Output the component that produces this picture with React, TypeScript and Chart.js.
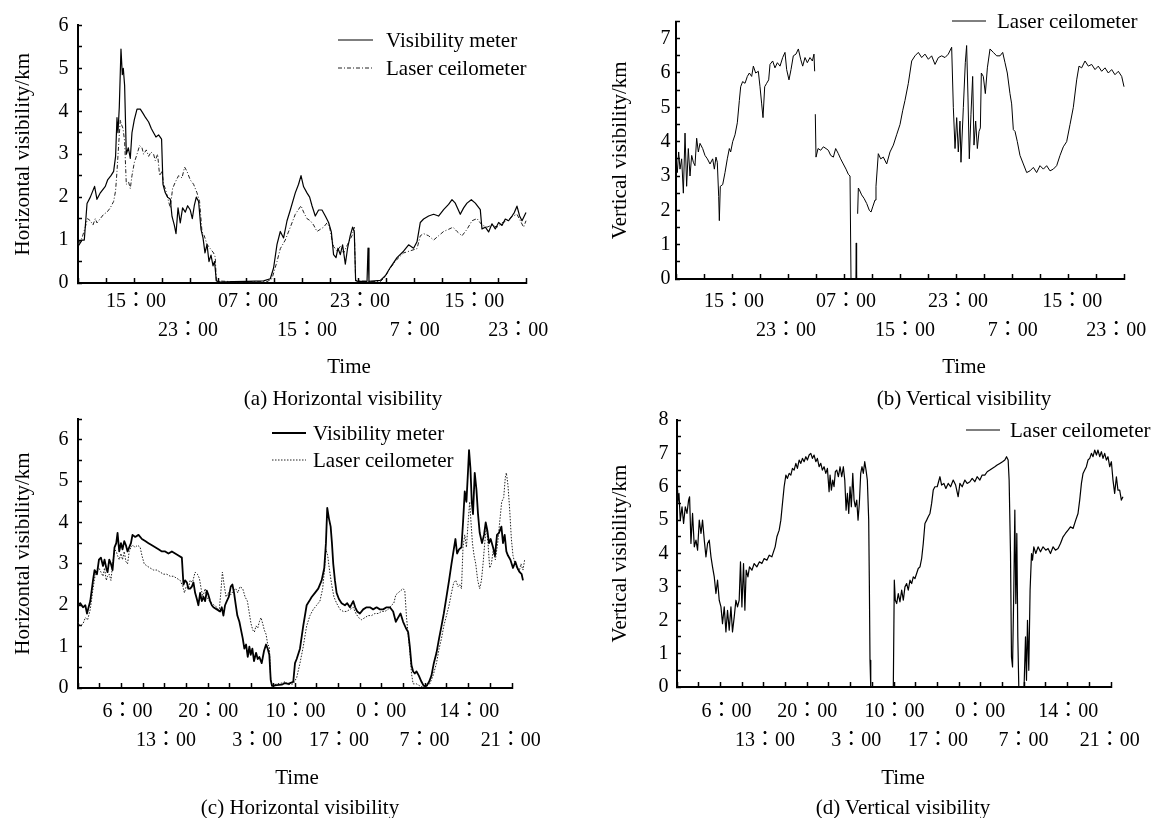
import React, { useEffect, useRef } from 'react';
import { Chart, registerables } from 'chart.js';

Chart.register(...registerables);

const FONT = "'Liberation Serif', 'Noto Sans CJK JP', 'Times New Roman', serif";

// ---------------- data: [time in hours from axis start, visibility km] ----------------
const aMeter = [[0,0.85],[0.57,1.0],[0.9,1.0],[1.29,1.85],[1.76,2.0],[2.37,2.25],[2.71,1.95],[3.19,2.1],[3.9,2.25],[4.23,2.4],[4.71,2.5],[5.09,2.6],[5.37,2.95],[5.57,3.85],[5.71,3.5],[5.9,4.1],[6.14,5.45],[6.33,4.85],[6.47,5.0],[6.66,4.6],[6.9,3.0],[7.19,3.15],[7.47,2.9],[7.71,3.5],[8.04,3.8],[8.43,4.05],[8.9,4.05],[9.29,3.95],[9.66,3.85],[10.09,3.75],[10.47,3.6],[10.8,3.5],[11.14,3.4],[11.51,3.45],[11.94,3.35],[12.14,2.3],[12.47,2.1],[12.8,2.0],[13.19,1.95],[13.43,1.55],[13.76,1.35],[14.0,1.15],[14.29,1.75],[14.61,1.4],[14.94,1.75],[15.33,1.65],[15.66,1.8],[16.04,1.7],[16.33,1.5],[16.61,1.8],[16.9,2.0],[17.23,1.9],[17.57,1.25],[17.86,1.05],[18.14,0.7],[18.43,0.9],[18.71,0.5],[19.0,0.65],[19.29,0.4],[19.51,0.5],[19.76,0.05],[20.33,0.02],[22.23,0.03],[24.14,0.04],[26.51,0.05],[27.47,0.1],[27.94,0.35],[28.43,0.9],[28.9,1.2],[29.37,1.05],[29.86,1.45],[30.33,1.7],[31.04,2.1],[31.51,2.3],[31.86,2.5],[32.23,2.24],[32.71,2.1],[33.09,2.0],[33.43,1.8],[33.9,1.56],[34.37,1.7],[34.86,1.7],[35.33,1.56],[35.8,1.41],[36.19,1.19],[36.51,0.66],[36.86,0.59],[37.14,0.81],[37.47,0.66],[37.8,0.89],[38.19,0.44],[38.51,0.81],[38.9,1.11],[39.23,1.3],[39.47,1.19],[39.66,0.06],[39.94,0.04],[41.29,0.04],[41.43,0.81],[41.57,0.04],[43.19,0.06],[43.9,0.17],[44.61,0.36],[45.57,0.59],[46.51,0.74],[47.23,0.89],[47.94,0.81],[48.43,0.96],[48.9,1.41],[49.37,1.49],[50.09,1.56],[50.8,1.6],[51.51,1.56],[52.23,1.71],[52.94,1.83],[53.43,1.94],[53.9,1.86],[54.61,1.6],[55.09,1.75],[55.57,1.86],[56.19,1.94],[56.76,1.86],[57.47,1.71],[57.71,1.26],[58.19,1.3],[58.66,1.19],[59.14,1.38],[59.61,1.26],[60.09,1.41],[60.57,1.34],[61.04,1.49],[61.51,1.45],[62.0,1.56],[62.33,1.64],[62.71,1.79],[63.09,1.56],[63.43,1.45],[63.76,1.56],[64.0,1.64]];

const aLaser = [[0,0.9],[0.57,1.05],[1.04,1.3],[1.37,1.5],[1.76,1.45],[2.14,1.35],[2.47,1.5],[2.71,1.4],[3.19,1.5],[3.66,1.6],[4.14,1.65],[4.61,1.75],[5.09,1.9],[5.37,2.15],[5.57,2.6],[5.8,3.2],[6.04,3.8],[6.19,3.7],[6.43,3.6],[6.66,3.3],[6.9,2.3],[7.23,2.35],[7.47,2.2],[7.71,2.5],[8.04,2.8],[8.43,3.0],[8.8,3.2],[9.14,3.15],[9.37,3.0],[9.76,3.1],[10.09,2.95],[10.43,3.05],[10.8,3.0],[11.04,2.85],[11.37,3.0],[11.66,2.5],[12.0,2.6],[12.23,2.3],[12.47,2.2],[12.94,1.9],[13.19,1.75],[13.51,2.2],[13.9,2.35],[14.37,2.5],[14.86,2.45],[15.23,2.7],[15.57,2.6],[16.04,2.4],[16.51,2.3],[17.0,2.1],[17.37,1.9],[17.71,1.2],[18.04,1.1],[18.43,0.9],[18.9,0.8],[19.37,0.7],[19.61,0.6],[19.76,0.05],[22.23,0.03],[27.0,0.03],[27.71,0.1],[28.43,0.5],[28.9,0.8],[29.61,1.0],[30.33,1.3],[31.04,1.6],[31.86,1.8],[32.23,1.65],[32.71,1.5],[33.19,1.45],[33.66,1.35],[34.14,1.2],[34.61,1.25],[35.09,1.3],[35.57,1.4],[35.94,1.3],[36.29,1.0],[36.51,0.85],[37.0,0.75],[37.47,0.85],[37.94,0.7],[38.51,0.9],[39.14,1.1],[39.47,1.3],[39.66,0.05],[43.19,0.03],[43.9,0.15],[44.61,0.35],[45.57,0.55],[46.51,0.7],[47.47,0.75],[48.43,0.8],[48.9,1.1],[49.37,1.15],[50.09,1.1],[50.8,1.0],[51.51,1.1],[52.23,1.2],[52.94,1.25],[53.57,1.3],[54.14,1.2],[54.86,1.1],[55.57,1.25],[56.29,1.45],[57.0,1.5],[57.71,1.35],[58.43,1.3],[59.14,1.35],[59.86,1.3],[60.57,1.4],[61.29,1.45],[62.0,1.55],[62.71,1.6],[63.19,1.45],[63.66,1.3],[64.0,1.45]];

const bLaser = [[0,3.5],[0.19,3.1],[0.38,3.7],[0.57,3.2],[0.81,3.5],[1.05,2.5],[1.29,4.25],[1.52,2.7],[1.76,3.8],[2.0,3.0],[2.24,3.6],[2.48,3.4],[2.71,3.3],[2.95,4.1],[3.19,3.7],[3.43,3.95],[3.81,3.8],[4.14,3.6],[4.48,3.5],[4.86,3.35],[5.24,3.5],[5.48,3.2],[5.71,3.55],[5.9,3.4],[6.1,2.4],[6.19,1.7],[6.33,2.7],[6.67,2.75],[7.0,3.1],[7.33,3.5],[7.62,3.8],[7.81,3.7],[8.1,4.0],[8.43,4.2],[8.76,4.55],[9.05,5.2],[9.24,5.6],[9.52,5.75],[9.86,5.7],[10.19,5.9],[10.48,6.0],[10.81,5.9],[11.05,6.2],[11.38,6.0],[11.76,6.05],[12.0,5.6],[12.24,5.1],[12.43,4.7],[12.67,5.6],[12.95,5.7],[13.24,5.8],[13.43,6.25],[13.81,6.35],[14.14,6.15],[14.48,6.3],[14.86,6.2],[15.24,6.45],[15.57,6.6],[15.81,6.1],[16.14,5.8],[16.43,6.1],[16.76,6.5],[17.14,6.55],[17.48,6.7],[17.81,6.4],[18.1,6.2],[18.43,6.45],[18.76,6.3],[19.14,6.45],[19.48,6.35],[19.71,6.55],[19.81,6.05],[19.86,null],[19.9,4.8],[20.0,3.55],[20.29,3.8],[20.67,3.75],[21.05,3.85],[21.43,3.8],[21.76,3.75],[22.1,3.6],[22.48,3.55],[22.81,3.8],[23.19,3.65],[23.52,3.5],[23.9,3.35],[24.29,3.2],[24.62,3.05],[24.86,3.0],[25.0,0],[25.14,0],[25.4,null],[25.7,0],[25.75,1.05],[25.8,0],[25.88,null],[25.95,1.9],[26.05,2.65],[26.19,2.6],[26.52,2.45],[26.86,2.35],[27.24,2.2],[27.62,2.0],[27.86,1.95],[28.1,2.1],[28.43,2.3],[28.57,2.7],[28.9,3.65],[29.24,3.5],[29.62,3.55],[30.1,3.35],[30.57,3.7],[31.05,3.9],[31.52,4.2],[32.0,4.5],[32.38,4.9],[32.71,5.2],[33.19,5.7],[33.67,6.35],[34.14,6.5],[34.62,6.6],[35.1,6.45],[35.57,6.55],[36.05,6.4],[36.52,6.5],[37.0,6.25],[37.48,6.45],[37.95,6.5],[38.43,6.45],[38.9,6.55],[39.38,6.75],[39.62,5.0],[39.86,3.8],[40.1,4.7],[40.33,3.7],[40.57,4.6],[40.71,3.4],[41.05,5.0],[41.33,6.3],[41.52,6.8],[41.71,5.3],[41.9,3.5],[42.14,4.8],[42.38,5.9],[42.57,3.9],[42.81,4.6],[43.05,3.8],[43.29,4.3],[43.48,4.4],[43.62,6.0],[43.9,5.9],[44.19,5.4],[44.48,6.15],[44.86,6.7],[45.33,6.6],[45.81,6.5],[46.29,6.5],[46.67,6.6],[47.0,6.3],[47.33,6.0],[47.71,5.4],[47.95,5.1],[48.19,4.35],[48.43,4.3],[48.76,4.0],[49.14,3.6],[49.62,3.35],[50.1,3.1],[50.57,3.15],[51.05,3.25],[51.52,3.1],[52.0,3.3],[52.48,3.2],[52.95,3.3],[53.43,3.15],[53.9,3.2],[54.38,3.3],[54.86,3.6],[55.33,3.85],[55.81,4.0],[56.29,4.5],[56.76,5.0],[57.24,5.8],[57.57,6.2],[57.95,6.15],[58.43,6.35],[58.9,6.2],[59.38,6.25],[59.86,6.1],[60.33,6.2],[60.81,6.05],[61.29,6.15],[61.76,6.0],[62.24,6.1],[62.71,5.95],[63.19,6.05],[63.67,5.9],[64.0,5.6]];

const cMeter = [[0,2.0],[0.37,2.05],[0.81,1.95],[1.18,2.0],[1.45,1.8],[1.71,1.95],[1.98,2.1],[2.42,2.6],[2.67,2.85],[3.06,2.75],[3.38,3.1],[3.7,3.15],[4.03,2.95],[4.28,3.1],[4.56,2.9],[4.77,2.8],[5.04,3.1],[5.31,3.0],[5.57,2.85],[5.89,3.4],[6.17,3.5],[6.38,3.75],[6.65,3.3],[6.93,3.5],[7.18,3.35],[7.46,3.55],[7.73,3.45],[7.99,3.3],[8.26,3.4],[8.54,3.5],[8.79,3.7],[9.23,3.65],[9.76,3.7],[10.31,3.6],[10.84,3.55],[11.37,3.5],[11.92,3.45],[12.45,3.4],[12.98,3.35],[13.53,3.3],[14.06,3.3],[14.59,3.25],[15.14,3.3],[15.67,3.25],[16.2,3.2],[16.75,3.15],[17.01,2.5],[17.28,2.6],[17.56,2.55],[17.81,2.4],[18.09,2.4],[18.36,2.45],[18.62,2.55],[18.89,2.3],[19.17,2.15],[19.42,2.0],[19.7,2.3],[19.97,2.1],[20.23,2.2],[20.5,2.1],[20.78,2.35],[21.03,2.25],[21.31,2.1],[21.58,2.0],[21.84,1.95],[22.39,1.9],[22.92,1.85],[23.19,1.95],[23.45,1.75],[23.72,2.0],[24.0,2.1],[24.32,2.2],[24.64,2.45],[24.9,2.5],[25.17,2.3],[25.45,2.0],[25.7,1.75],[26.03,1.6],[26.3,1.4],[26.57,1.2],[26.83,0.95],[27.11,1.05],[27.38,0.75],[27.64,1.0],[27.86,0.8],[28.12,0.95],[28.39,0.65],[28.72,0.85],[28.99,0.7],[29.25,0.75],[29.63,0.6],[30.01,0.9],[30.33,1.05],[30.6,0.95],[30.86,0.8],[31.08,0.2],[31.29,0.05],[32.05,0.07],[32.86,0.08],[33.39,0.12],[33.92,0.1],[34.72,0.15],[35.0,0.6],[35.27,0.7],[35.8,0.95],[36.33,1.5],[36.88,2.0],[37.3,2.1],[37.69,2.2],[38.22,2.3],[38.75,2.4],[39.3,2.6],[39.72,2.9],[39.99,3.5],[40.2,4.35],[40.47,4.1],[40.75,3.9],[40.96,3.5],[41.17,3.0],[41.44,2.6],[41.71,2.3],[42.08,2.15],[42.52,2.05],[43.05,2.0],[43.42,2.05],[43.86,1.95],[44.39,2.1],[44.71,1.95],[45.03,1.85],[45.47,1.8],[46.0,1.9],[46.55,1.95],[47.08,1.95],[47.61,1.9],[48.16,1.95],[48.69,1.9],[49.22,1.9],[49.77,1.95],[50.3,1.95],[50.83,1.85],[51.26,1.6],[51.63,1.7],[52.02,1.8],[52.44,1.6],[52.88,1.45],[53.25,1.35],[53.52,1.0],[53.79,0.55],[54.05,0.4],[54.32,0.35],[54.6,0.4],[54.97,0.3],[55.4,0.15],[55.77,0.05],[56.21,0.05],[56.63,0.15],[57.01,0.3],[57.39,0.6],[57.82,0.85],[58.24,1.2],[58.63,1.5],[59.0,1.8],[59.43,2.2],[59.85,2.6],[60.24,3.0],[60.61,3.35],[60.88,3.6],[61.14,3.25],[61.46,3.35],[61.85,3.4],[62.1,4.0],[62.38,4.75],[62.65,4.5],[62.91,5.25],[63.07,5.75],[63.3,5.3],[63.51,4.5],[63.71,4.2],[63.99,5.2],[64.26,4.8],[64.52,4.2],[64.79,3.75],[65.16,3.5],[65.49,3.7],[65.76,4.0],[66.03,3.8],[66.29,3.5],[66.56,3.6],[66.94,3.4],[67.26,3.2],[67.58,3.7],[67.9,3.75],[68.29,3.9],[68.55,3.5],[68.82,3.7],[69.09,3.3],[69.35,3.2],[69.74,3.1],[70.16,2.9],[70.54,3.05],[70.87,2.9],[71.24,2.8],[71.56,2.75],[71.77,2.6]];

const cLaser = [[0,1.6],[0.37,1.5],[0.81,1.55],[1.18,1.7],[1.55,1.65],[1.98,1.9],[2.42,2.4],[2.79,2.75],[3.06,2.85],[3.38,2.9],[3.7,2.8],[4.03,2.7],[4.28,2.9],[4.56,2.6],[4.77,2.7],[5.04,2.75],[5.31,2.6],[5.57,2.95],[5.89,3.35],[6.17,3.3],[6.38,3.2],[6.65,3.1],[6.93,3.25],[7.18,3.1],[7.46,3.3],[7.73,3.05],[7.99,3.0],[8.26,3.3],[8.54,3.4],[8.79,3.45],[9.23,3.4],[9.6,3.45],[10.03,3.4],[10.31,3.2],[10.68,3.0],[11.11,2.95],[11.64,2.9],[12.18,2.85],[12.72,2.85],[13.26,2.8],[13.79,2.75],[14.33,2.75],[14.87,2.7],[15.4,2.7],[15.94,2.65],[16.48,2.6],[16.91,2.45],[17.17,2.3],[17.44,2.45],[17.81,2.4],[18.09,2.6],[18.46,2.55],[18.89,2.8],[19.26,2.75],[19.58,2.65],[19.86,2.4],[20.13,2.2],[20.5,2.4],[20.78,2.2],[21.2,2.1],[21.58,2.05],[21.95,2.0],[22.39,1.95],[22.76,1.85],[23.03,2.3],[23.29,2.8],[23.56,2.5],[23.88,2.2],[24.26,2.3],[24.64,2.25],[25.06,2.35],[25.45,2.4],[25.77,2.3],[26.14,2.45],[26.57,2.4],[26.95,2.2],[27.32,2.1],[27.64,1.8],[27.91,1.55],[28.19,1.4],[28.44,1.35],[28.72,1.5],[28.99,1.45],[29.25,1.6],[29.52,1.7],[29.8,1.55],[30.05,1.4],[30.33,1.3],[30.6,1.05],[30.86,1.0],[31.08,0.2],[31.29,0.05],[32.05,0.1],[32.86,0.12],[33.39,0.15],[33.92,0.08],[34.72,0.1],[35.27,0.25],[35.8,0.6],[36.33,1.0],[36.88,1.5],[37.41,1.75],[37.95,1.9],[38.49,2.0],[39.02,2.1],[39.46,2.4],[39.72,2.8],[39.99,3.35],[40.27,3.2],[40.52,2.9],[40.91,2.5],[41.28,2.2],[41.71,2.05],[42.25,1.9],[42.78,1.85],[43.32,1.85],[43.86,1.9],[44.39,1.95],[44.82,1.8],[45.26,1.7],[45.74,1.65],[46.27,1.7],[46.8,1.75],[47.35,1.75],[47.88,1.8],[48.41,1.8],[48.96,1.85],[49.49,1.85],[50.03,1.9],[50.57,2.0],[50.94,2.05],[51.26,2.25],[51.63,2.3],[52.02,2.35],[52.44,2.4],[52.71,2.35],[52.99,1.7],[53.25,1.3],[53.52,0.9],[53.79,0.35],[54.05,0.1],[54.6,0.1],[55.13,0.05],[55.66,0.02],[56.21,0.05],[56.74,0.1],[57.27,0.3],[57.82,0.6],[58.24,0.95],[58.63,1.2],[59.0,1.5],[59.43,1.75],[59.85,2.0],[60.24,2.3],[60.61,2.55],[60.93,2.6],[61.3,2.45],[61.57,2.5],[61.85,2.4],[62.1,3.4],[62.38,3.7],[62.65,3.4],[62.97,4.1],[63.18,4.5],[63.39,4.0],[63.62,3.5],[63.88,3.2],[64.15,3.0],[64.47,2.6],[64.79,2.4],[65.07,2.6],[65.33,3.0],[65.6,3.5],[65.87,3.9],[66.13,3.5],[66.4,2.9],[66.68,3.0],[66.94,3.3],[67.32,3.1],[67.69,3.5],[68.01,4.0],[68.34,4.5],[68.66,4.6],[68.93,5.1],[69.09,5.2],[69.35,4.9],[69.63,4.3],[69.9,3.6],[70.16,3.2],[70.48,3.0],[70.8,2.9],[71.12,2.8],[71.45,3.0],[71.77,2.85],[72.04,3.1]];

const dLaser = [[0,5.9],[0.1,5.5],[0.32,5.8],[0.53,5.0],[0.81,5.4],[1.06,4.9],[1.34,5.4],[1.61,5.2],[1.87,5.6],[2.03,5.7],[2.25,4.3],[2.51,5.2],[2.79,4.2],[3.06,4.4],[3.32,4.1],[3.59,5.0],[3.87,4.6],[4.12,5.0],[4.4,4.4],[4.67,3.9],[4.93,4.3],[5.2,4.4],[5.48,3.9],[5.73,3.6],[6.01,3.3],[6.28,2.8],[6.54,3.2],[6.81,2.6],[7.09,2.4],[7.34,1.9],[7.62,2.4],[7.89,1.65],[8.15,2.3],[8.42,1.7],[8.7,2.4],[8.95,1.65],[9.23,2.1],[9.5,2.6],[9.76,2.4],[10.03,2.6],[10.24,3.75],[10.47,2.4],[10.73,3.7],[10.95,2.3],[11.16,3.5],[11.44,3.3],[11.69,3.6],[12.08,3.5],[12.45,3.7],[12.88,3.6],[13.3,3.75],[13.69,3.7],[14.06,3.85],[14.5,3.8],[14.87,3.95],[15.3,3.9],[15.56,4.05],[15.83,4.2],[16.11,4.5],[16.48,4.7],[16.75,5.0],[17.01,5.5],[17.28,6.0],[17.56,6.35],[17.81,6.25],[18.09,6.4],[18.36,6.35],[18.62,6.55],[18.89,6.5],[19.17,6.7],[19.42,6.55],[19.7,6.8],[19.97,6.7],[20.23,6.85],[20.5,6.75],[20.78,6.9],[21.03,6.8],[21.31,6.95],[21.58,7.0],[21.84,6.85],[22.11,6.95],[22.39,6.75],[22.64,6.85],[22.92,6.6],[23.19,6.7],[23.45,6.5],[23.72,6.6],[24.0,6.4],[24.26,6.55],[24.53,5.85],[24.69,6.35],[24.9,5.9],[25.12,6.2],[25.33,6.0],[25.54,6.45],[25.77,6.5],[26.03,6.3],[26.3,6.6],[26.57,6.3],[26.83,6.6],[27.06,6.2],[27.27,5.3],[27.48,5.8],[27.7,5.2],[27.91,6.0],[28.12,5.4],[28.35,6.4],[28.56,5.6],[28.76,5.4],[28.99,5.6],[29.2,5.0],[29.41,5.5],[29.63,6.4],[29.84,6.6],[30.05,6.4],[30.28,6.75],[30.49,6.5],[30.7,6.2],[30.92,5.0],[31.02,3.2],[31.13,0.8],[31.25,0],[34.89,0],[35.05,3.2],[35.21,2.6],[35.43,2.5],[35.69,2.8],[35.96,2.55],[36.24,2.9],[36.5,2.6],[36.77,3.0],[37.04,3.1],[37.3,2.9],[37.58,3.2],[37.85,3.1],[38.11,3.3],[38.38,3.25],[38.65,3.4],[38.91,3.55],[39.19,3.6],[39.46,3.85],[39.72,4.3],[39.99,4.9],[40.27,5.0],[40.52,5.1],[40.8,5.2],[41.07,5.5],[41.33,5.9],[41.6,6.0],[41.97,6.0],[42.41,6.3],[42.68,6.05],[43.05,6.1],[43.37,5.95],[43.74,6.1],[44.13,6.0],[44.55,6.2],[44.94,6.05],[45.35,5.7],[45.63,6.1],[46.0,6.0],[46.43,6.2],[46.8,6.1],[47.24,6.15],[47.61,6.25],[48.04,6.15],[48.41,6.3],[48.85,6.2],[49.22,6.35],[49.65,6.35],[50.03,6.45],[50.46,6.5],[50.83,6.55],[51.26,6.6],[51.64,6.65],[52.07,6.7],[52.5,6.75],[52.88,6.8],[53.15,6.9],[53.41,6.8],[53.57,6.2],[53.79,4.0],[53.95,0.9],[54.12,0.6],[54.33,3.0],[54.49,5.3],[54.65,2.5],[54.81,4.6],[54.97,1.5],[55.13,0],[55.98,0],[56.21,1.5],[56.37,0.2],[56.53,2.0],[56.74,0.5],[56.95,2.9],[57.18,4.0],[57.34,3.8],[57.55,4.2],[57.87,4.0],[58.24,4.2],[58.63,4.05],[59.04,4.2],[59.48,4.1],[59.85,4.15],[60.24,4.0],[60.66,4.2],[61.04,4.1],[61.46,4.15],[61.85,4.3],[62.27,4.5],[62.65,4.6],[63.07,4.7],[63.46,4.8],[63.88,4.75],[64.31,5.0],[64.68,5.2],[64.95,5.6],[65.23,6.1],[65.49,6.4],[65.76,6.5],[66.03,6.6],[66.29,6.8],[66.57,6.85],[66.84,7.0],[67.1,6.9],[67.37,7.1],[67.65,6.95],[67.9,7.1],[68.18,6.9],[68.45,7.05],[68.71,6.85],[68.98,7.0],[69.26,6.8],[69.51,6.9],[69.79,6.6],[70.06,6.75],[70.32,6.2],[70.59,5.8],[70.87,6.3],[71.12,5.9],[71.4,5.9],[71.67,5.6],[71.93,5.7]];

// ---------------- tick labels (alternating upper / lower row) ----------------
const abLabelHours = [8.3, 15.7, 24.3, 32.7, 40.3, 48.1, 56.6, 62.9];
const abLabelText = ['15：00', '23：00', '07：00', '15：00', '23：00', '7：00', '15：00', '23：00'];
const cdLabelHours = [8.0, 14.2, 21.0, 28.9, 35.1, 42.1, 48.9, 55.9, 63.1, 69.8];
const cdLabelText = ['6：00', '13：00', '20：00', '3：00', '10：00', '17：00', '0：00', '7：00', '14：00', '21：00'];

// ---------------- chart helpers ----------------
const legendPlugin = {
  id: 'lineLegend',
  afterDraw(chart: any, _args: any, opts: any) {
    const ctx = chart.ctx;
    (opts.items || []).forEach((it: any) => {
      const ds = chart.data.datasets[it.ds];
      ctx.save();
      ctx.strokeStyle = ds.borderColor;
      ctx.lineWidth = ds.borderWidth;
      ctx.setLineDash(ds.borderDash || []);
      ctx.beginPath();
      ctx.moveTo(it.x1, it.y);
      ctx.lineTo(it.x2, it.y);
      ctx.stroke();
      ctx.setLineDash([]);
      ctx.fillStyle = '#000';
      ctx.font = `21px ${FONT}`;
      ctx.textAlign = 'left';
      ctx.textBaseline = 'middle';
      ctx.fillText(ds.label, it.tx, it.y + 1);
      ctx.restore();
    });
  },
};

function buildConfig(p: any) {
  return {
    type: 'line',
    data: {
      datasets: p.series.map((s: any) => ({
        label: s.label,
        data: s.data.map((d: any) => ({ x: d[0], y: d[1] })),
        borderColor: s.color,
        borderWidth: s.width,
        borderDash: s.dash,
        borderJoinStyle: 'round',
        pointRadius: 0,
        tension: 0,
        fill: false,
        spanGaps: false,
        clip: false,
      })),
    },
    options: {
      animation: false,
      responsive: false,
      maintainAspectRatio: false,
      devicePixelRatio: 1,
      events: [],
      layout: { padding: { top: p.padTop, right: p.padRight, bottom: 0, left: 0 } },
      plugins: {
        legend: { display: false },
        tooltip: { enabled: false },
        lineLegend: { items: p.legend },
      },
      scales: {
        x: {
          type: 'linear',
          position: 'bottom',
          bounds: 'data',
          afterDataLimits: (s: any) => {
            s.min = 0;
            s.max = p.xMax;
          },
          afterBuildTicks: (s: any) => {
            const t: any[] = [];
            for (let v = 0; v <= p.xMax + 1e-9; v += p.tickStep) t.push({ value: v });
            p.labelHours.forEach((hv: number, i: number) => {
              t.push({ value: hv, lbl: i % 2 === 0 ? [p.labelText[i], ''] : ['', p.labelText[i]] });
            });
            t.sort((a, b) => a.value - b.value);
            s.ticks = t;
          },
          afterFit: (s: any) => {
            s.height = p.xHeight;
          },
          ticks: {
            autoSkip: false,
            maxRotation: 0,
            minRotation: 0,
            padding: p.xTickPad,
            color: '#000',
            font: { family: FONT, size: 20, lineHeight: '29px' },
            callback: (_v: any, i: number, ticks: any[]) => (ticks[i] && ticks[i].lbl) || '',
          },
          grid: {
            display: true,
            drawOnChartArea: false,
            drawTicks: true,
            tickLength: -5,
            tickWidth: (c: any) => (c.tick && c.tick.lbl ? 0 : 1.5),
            tickColor: '#000',
          },
          border: { display: true, color: '#000', width: 2 },
        },
        y: {
          type: 'linear',
          min: 0,
          max: p.yMax,
          afterFit: (s: any) => {
            s.width = p.yWidth;
          },
          ticks: {
            stepSize: 0.5,
            autoSkip: false,
            padding: p.yTickPad,
            color: '#000',
            font: { family: FONT, size: 20 },
            callback: (v: number) => (Math.abs(v - Math.round(v)) < 1e-6 ? String(Math.round(v)) : ''),
          },
          grid: {
            display: true,
            drawOnChartArea: false,
            drawTicks: true,
            tickLength: -4,
            tickWidth: 1.5,
            tickColor: '#000',
          },
          border: { display: true, color: '#000', width: 2 },
          title: {
            display: true,
            text: p.yTitle,
            color: '#000',
            font: { family: FONT, size: 21 },
            padding: { top: p.yTitlePad, bottom: 0 },
          },
        },
      },
    },
    plugins: [legendPlugin],
  };
}

const PANELS = [
  {
    left: 0, top: 0, w: 578, h: 392,
    series: [
      { label: 'Visibility meter', data: aMeter, width: 1.2, dash: [], color: '#000' },
      { label: 'Laser ceilometer', data: aLaser, width: 1, dash: [4, 2, 1, 2], color: '#222' },
    ],
    xMax: 64, tickStep: 4, labelHours: abLabelHours, labelText: abLabelText,
    yMax: 6, yTitle: 'Horizontal visibility/km',
    yWidth: 78, xHeight: 109, padTop: 17, padRight: 52,
    yTickPad: 13.4, xTickPad: 9.2, yTitlePad: 10.4,
    legend: [
      { ds: 0, x1: 338, x2: 373, y: 40, tx: 386 },
      { ds: 1, x1: 338, x2: 373, y: 68, tx: 386 },
    ],
  },
  {
    left: 578, top: 0, w: 578, h: 392,
    series: [{ label: 'Laser ceilometer', data: bLaser, width: 1, dash: [], color: '#000' }],
    xMax: 64, tickStep: 4, labelHours: abLabelHours, labelText: abLabelText,
    yMax: 7.5, yTitle: 'Vertical visibility/km',
    yWidth: 98, xHeight: 113, padTop: 15, padRight: 32,
    yTickPad: 9.5, xTickPad: 13.2, yTitlePad: 29.4,
    legend: [{ ds: 0, x1: 374, x2: 408, y: 21, tx: 419 }],
  },
  {
    left: 0, top: 392, w: 578, h: 426,
    series: [
      { label: 'Visibility meter', data: cMeter, width: 1.8, dash: [], color: '#000' },
      { label: 'Laser ceilometer', data: cLaser, width: 1, dash: [1.5, 1.5], color: '#222' },
    ],
    xMax: 70, tickStep: 3.5, labelHours: cdLabelHours, labelText: cdLabelText,
    yMax: 6.5, yTitle: 'Horizontal visibility/km',
    yWidth: 78, xHeight: 130, padTop: 27, padRight: 66,
    yTickPad: 13.4, xTickPad: 14.5, yTitlePad: 10.4,
    legend: [
      { ds: 0, x1: 272, x2: 306, y: 41, tx: 313 },
      { ds: 1, x1: 272, x2: 306, y: 68, tx: 313 },
    ],
  },
  {
    left: 578, top: 392, w: 578, h: 426,
    series: [{ label: 'Laser ceilometer', data: dLaser, width: 1.2, dash: [], color: '#000' }],
    xMax: 70, tickStep: 3.5, labelHours: cdLabelHours, labelText: cdLabelText,
    yMax: 8, yTitle: 'Vertical visibility/km',
    yWidth: 99, xHeight: 131, padTop: 28, padRight: 45,
    yTickPad: 12.4, xTickPad: 15.5, yTitlePad: 29.4,
    legend: [{ ds: 0, x1: 388, x2: 422, y: 38, tx: 432 }],
  },
];

const TEXTS = [
  { t: 'Time', x: 349, y: 366 },
  { t: 'Time', x: 964, y: 366 },
  { t: 'Time', x: 297, y: 777 },
  { t: 'Time', x: 903, y: 777 },
  { t: '(a) Horizontal visibility', x: 343, y: 398 },
  { t: '(b) Vertical visibility', x: 964, y: 398 },
  { t: '(c) Horizontal visibility', x: 300, y: 807 },
  { t: '(d) Vertical visibility', x: 903, y: 807 },
];

export default function App() {
  const canvases = useRef<(HTMLCanvasElement | null)[]>([]);

  useEffect(() => {
    const charts = PANELS.map((p, i) => new Chart(canvases.current[i] as HTMLCanvasElement, buildConfig(p) as any));
    return () => charts.forEach((c) => c.destroy());
  }, []);

  return (
    <div
      style={{
        position: 'absolute',
        left: 0,
        top: 0,
        width: 1156,
        height: 818,
        background: '#fff',
        overflow: 'hidden',
        fontFamily: FONT,
        color: '#000',
      }}
    >
      {PANELS.map((p, i) => (
        <canvas
          key={i}
          ref={(el) => {
            canvases.current[i] = el;
          }}
          width={p.w}
          height={p.h}
          style={{ position: 'absolute', left: p.left, top: p.top, width: p.w, height: p.h }}
        />
      ))}
      {TEXTS.map((tx, i) => (
        <div
          key={'t' + i}
          style={{
            position: 'absolute',
            left: tx.x,
            top: tx.y - 12,
            transform: 'translateX(-50%)',
            whiteSpace: 'nowrap',
            fontSize: 21,
            lineHeight: '24px',
          }}
        >
          {tx.t}
        </div>
      ))}
    </div>
  );
}
